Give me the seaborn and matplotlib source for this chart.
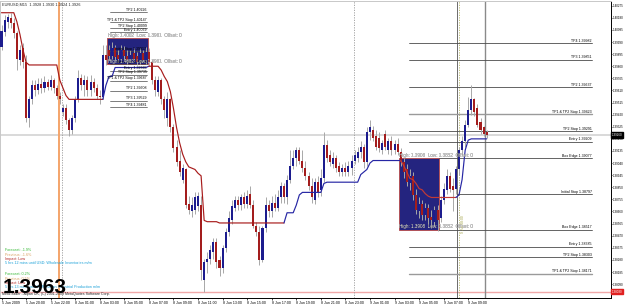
import matplotlib
matplotlib.use("Agg")
import matplotlib.pyplot as plt
import seaborn as sns
import pandas as pd
import numpy as np
from matplotlib.patches import Rectangle
import matplotlib.transforms as mtransforms

# ---------------- data (EURUSD M15) ----------------
opens = [1.3995, 1.4007, 1.4015, 1.4018, 1.4014, 1.4006, 1.3985, 1.3994, 1.3983, 1.3939,
         1.3954, 1.3965, 1.3961, 1.3966, 1.3963, 1.3968, 1.3964, 1.3969, 1.3963, 1.3957,
         1.3944, 1.3947, 1.3938, 1.3930, 1.3939, 1.3954, 1.3971, 1.3965, 1.3969, 1.3961,
         1.3968, 1.3963, 1.3957, 1.3956, 1.3989, 1.3993, 1.3988, 1.3994, 1.3989, 1.3986,
         1.3993, 1.3988, 1.3985, 1.3990, 1.3988, 1.3985, 1.3990, 1.3985, 1.3991, 1.3983,
         1.3969, 1.3960, 1.3969, 1.3954, 1.3939, 1.3954, 1.3932, 1.3917, 1.3906, 1.3891,
         1.3899, 1.3872, 1.3866, 1.3867, 1.3870, 1.3871, 1.3812, 1.3826, 1.3829, 1.3834,
         1.3842, 1.3828, 1.3822, 1.3837, 1.3850, 1.3859, 1.3869, 1.3875, 1.3871, 1.3877,
         1.3872, 1.3880, 1.3871, 1.3855, 1.3850, 1.3828, 1.3853, 1.3871, 1.3866, 1.3873,
         1.3869, 1.3877, 1.3886, 1.3877, 1.3891, 1.3902, 1.3908, 1.3914, 1.3906, 1.3900,
         1.3894, 1.3886, 1.3875, 1.3889, 1.3883, 1.3892, 1.3918, 1.3910, 1.3903, 1.3908,
         1.3902, 1.3897, 1.3900, 1.3897, 1.3900, 1.3906, 1.3908, 1.3913, 1.3917, 1.3905,
         1.3928, 1.3930, 1.3925, 1.3924, 1.3914, 1.3927, 1.3914, 1.3921, 1.3914, 1.3919,
         1.3913, 1.3905, 1.3899, 1.3888, 1.3894, 1.3879, 1.3866, 1.3872, 1.3863, 1.3869,
         1.3862, 1.3858, 1.3867, 1.3861, 1.3875, 1.3883, 1.3894, 1.3886, 1.3884, 1.3899,
         1.3914, 1.3921, 1.3934, 1.3946, 1.3954, 1.3947, 1.3936, 1.3932, 1.3928]
highs = [1.4012, 1.4020, 1.4021, 1.4022, 1.4018, 1.4008, 1.3997, 1.3998, 1.3989, 1.3957,
         1.3969, 1.3969, 1.3971, 1.3971, 1.3972, 1.3970, 1.3973, 1.3971, 1.3965, 1.3960,
         1.3950, 1.3950, 1.3939, 1.3942, 1.3957, 1.3977, 1.3974, 1.3973, 1.3972, 1.3973,
         1.3971, 1.3966, 1.3961, 1.3997, 1.3997, 1.3997, 1.3999, 1.3997, 1.3993, 1.3997,
         1.3996, 1.3993, 1.3993, 1.3994, 1.3991, 1.3994, 1.3993, 1.3995, 1.3994, 1.3985,
         1.3972, 1.3972, 1.3971, 1.3957, 1.3960, 1.3955, 1.3935, 1.3922, 1.3914, 1.3903,
         1.3900, 1.3878, 1.3877, 1.3881, 1.3881, 1.3878, 1.3829, 1.3834, 1.3840, 1.3845,
         1.3845, 1.3831, 1.3840, 1.3853, 1.3866, 1.3875, 1.3878, 1.3878, 1.3880, 1.3881,
         1.3883, 1.3886, 1.3875, 1.3858, 1.3855, 1.3855, 1.3877, 1.3875, 1.3878, 1.3880,
         1.3883, 1.3889, 1.3888, 1.3895, 1.3914, 1.3914, 1.3917, 1.3917, 1.3914, 1.3906,
         1.3897, 1.3892, 1.3892, 1.3894, 1.3899, 1.3928, 1.3922, 1.3914, 1.3913, 1.3910,
         1.3905, 1.3903, 1.3905, 1.3906, 1.3910, 1.3914, 1.3917, 1.3921, 1.3919, 1.3932,
         1.3938, 1.3933, 1.3930, 1.3928, 1.3922, 1.3930, 1.3924, 1.3925, 1.3922, 1.3924,
         1.3916, 1.3908, 1.3903, 1.3899, 1.3897, 1.3884, 1.3877, 1.3875, 1.3873, 1.3872,
         1.3867, 1.3870, 1.3871, 1.3878, 1.3888, 1.3899, 1.3897, 1.3892, 1.3902, 1.3917,
         1.3925, 1.3938, 1.3956, 1.3965, 1.3955, 1.3950, 1.3939, 1.3933, 1.3930]
lows = [1.3993, 1.4004, 1.4010, 1.4010, 1.4002, 1.3977, 1.3981, 1.3979, 1.3936, 1.3932,
        1.3950, 1.3957, 1.3958, 1.3959, 1.3960, 1.3961, 1.3961, 1.3959, 1.3954, 1.3950,
        1.3941, 1.3935, 1.3925, 1.3927, 1.3936, 1.3952, 1.3961, 1.3957, 1.3957, 1.3957,
        1.3960, 1.3954, 1.3950, 1.3954, 1.3981, 1.3985, 1.3986, 1.3985, 1.3983, 1.3985,
        1.3985, 1.3982, 1.3983, 1.3983, 1.3981, 1.3982, 1.3983, 1.3982, 1.3980, 1.3966,
        1.3957, 1.3957, 1.3950, 1.3939, 1.3933, 1.3928, 1.3913, 1.3902, 1.3894, 1.3888,
        1.3869, 1.3864, 1.3862, 1.3864, 1.3866, 1.3812, 1.3803, 1.3818, 1.3825, 1.3829,
        1.3822, 1.3815, 1.3818, 1.3834, 1.3847, 1.3856, 1.3866, 1.3867, 1.3867, 1.3869,
        1.3869, 1.3869, 1.3853, 1.3847, 1.3824, 1.3826, 1.3850, 1.3862, 1.3862, 1.3866,
        1.3866, 1.3873, 1.3873, 1.3872, 1.3888, 1.3899, 1.3902, 1.3903, 1.3897, 1.3891,
        1.3883, 1.3873, 1.3872, 1.3877, 1.3878, 1.3889, 1.3905, 1.3902, 1.3900, 1.3897,
        1.3894, 1.3894, 1.3894, 1.3894, 1.3895, 1.3903, 1.3905, 1.3908, 1.3900, 1.3902,
        1.3922, 1.3921, 1.3914, 1.3913, 1.3911, 1.3914, 1.3911, 1.3910, 1.3911, 1.3910,
        1.3902, 1.3892, 1.3886, 1.3883, 1.3875, 1.3864, 1.3861, 1.3859, 1.3859, 1.3856,
        1.3853, 1.3855, 1.3851, 1.3858, 1.3872, 1.3880, 1.3881, 1.3866, 1.3880, 1.3895,
        1.3910, 1.3917, 1.3932, 1.3942, 1.3941, 1.3932, 1.3927, 1.3925, 1.3924]
closes = [1.4008, 1.4016, 1.4019, 1.4014, 1.4006, 1.3986, 1.3993, 1.3983, 1.3939, 1.3954,
          1.3965, 1.3961, 1.3966, 1.3963, 1.3968, 1.3964, 1.3969, 1.3963, 1.3957, 1.3954,
          1.3947, 1.3938, 1.3930, 1.3939, 1.3954, 1.3971, 1.3965, 1.3969, 1.3961, 1.3968,
          1.3963, 1.3957, 1.3956, 1.3989, 1.3985, 1.3988, 1.3994, 1.3987, 1.3986, 1.3993,
          1.3988, 1.3985, 1.3989, 1.3986, 1.3983, 1.3990, 1.3985, 1.3991, 1.3983, 1.3969,
          1.3961, 1.3969, 1.3954, 1.3946, 1.3954, 1.3932, 1.3916, 1.3905, 1.3897, 1.3900,
          1.3871, 1.3867, 1.3871, 1.3877, 1.3878, 1.3820, 1.3826, 1.3829, 1.3836, 1.3842,
          1.3826, 1.3822, 1.3837, 1.3850, 1.3861, 1.3870, 1.3875, 1.3871, 1.3877, 1.3872,
          1.3878, 1.3871, 1.3855, 1.3850, 1.3828, 1.3853, 1.3871, 1.3866, 1.3873, 1.3869,
          1.3877, 1.3886, 1.3877, 1.3891, 1.3902, 1.3908, 1.3914, 1.3906, 1.3900, 1.3894,
          1.3886, 1.3877, 1.3889, 1.3881, 1.3892, 1.3918, 1.3908, 1.3905, 1.3908, 1.3900,
          1.3897, 1.3900, 1.3897, 1.3902, 1.3906, 1.3910, 1.3913, 1.3917, 1.3905, 1.3928,
          1.3932, 1.3924, 1.3917, 1.3916, 1.3920, 1.3917, 1.3921, 1.3914, 1.3919, 1.3913,
          1.3905, 1.3897, 1.3889, 1.3894, 1.3879, 1.3867, 1.3872, 1.3863, 1.3869, 1.3861,
          1.3859, 1.3867, 1.3859, 1.3875, 1.3884, 1.3894, 1.3884, 1.3883, 1.3899, 1.3914,
          1.3921, 1.3934, 1.3946, 1.3954, 1.3944, 1.3934, 1.3930, 1.3927, 1.3926]

# trailing-stop indicator, split into its red / blue stretches (first bar index, values)
trail_red_1_start = 0
trail_red_1 = [1.4022, 1.4022, 1.4022, 1.4022, 1.4022, 1.4015, 1.4005, 1.3993, 1.3983,
               1.3981, 1.3981, 1.3981, 1.3981, 1.3981, 1.3981, 1.3981, 1.3981, 1.3981, 1.3981,
               1.3969, 1.3963, 1.3957,
               1.3954, 1.3954, 1.3954, 1.3954, 1.3954, 1.3954, 1.3954, 1.3954, 1.3954, 1.3954,
               1.3954, 1.3954]
trail_blue_1_start = 33
trail_blue_1 = [1.3954, 1.3965, 1.3972, 1.3972, 1.3979, 1.3979, 1.3979, 1.3979, 1.3979,
                1.3979, 1.3979, 1.3979, 1.3979, 1.3979, 1.3979, 1.3980]
trail_red_2_start = 48
trail_red_2 = [1.3980, 1.3980, 1.3980, 1.3980, 1.3977, 1.3972, 1.3968, 1.3960, 1.3947,
               1.3932, 1.3920, 1.3911, 1.3905, 1.3901, 1.3900, 1.3899, 1.3896, 1.3894,
               1.3859, 1.3858, 1.3858, 1.3858, 1.3858,
               1.3857, 1.3857, 1.3857, 1.3857, 1.3857, 1.3857, 1.3857, 1.3857, 1.3857, 1.3857,
               1.3857, 1.3857, 1.3857, 1.3857, 1.3857, 1.3857, 1.3857, 1.3857, 1.3857, 1.3857,
               1.3857, 1.3857]
trail_blue_2_start = 92
trail_blue_2 = [1.3857, 1.3865, 1.3865, 1.3865, 1.3871, 1.3879,
                1.3881, 1.3881, 1.3881, 1.3881, 1.3881, 1.3881, 1.3881, 1.3888,
                1.3889, 1.3889, 1.3889, 1.3889, 1.3889, 1.3889, 1.3889, 1.3889, 1.3889,
                1.3889, 1.3889, 1.3895, 1.3897, 1.3899, 1.3904,
                1.3906, 1.3906, 1.3906, 1.3906, 1.3906, 1.3906, 1.3906, 1.3906, 1.3906, 1.3906]
trail_red_3_start = 130
trail_red_3 = [1.3906, 1.3902, 1.3897, 1.3892, 1.3891, 1.3888, 1.3884, 1.3883, 1.3880,
               1.3878, 1.3877, 1.3877, 1.3877, 1.3877, 1.3877, 1.3877, 1.3877, 1.3877, 1.3877]
trail_blue_3_start = 148
trail_blue_3 = [1.3877, 1.3879, 1.3891, 1.3914, 1.3922, 1.3923, 1.3923, 1.3923, 1.3923,
                1.3923, 1.3923]

# breakout boxes (first bar, last bar, high, low)
left_box_bars = [35, 47]
left_box_prices = [1.40020, 1.39814]
right_box_bars = [130, 142]
right_box_prices = [1.39077, 1.38517]

left_level_names = ["TP2 1.40226", "TP1 & TP2 Stop 1.40147", "TP2 Stop 1.40099", "Entry 1.40069",
                    "Initial Stop 1.39917",
                    "Box Edge 1.39814", "Entry 1.39765", "TP2 Stop 1.39735",
                    "TP1 & TP2 Stop 1.39687", "TP2 1.39608", "TP3 1.39529", "TP4 1.39481"]
left_level_prices = [1.40226, 1.40147, 1.40099, 1.40069, 1.39917, 1.39814, 1.39765, 1.39735,
                     1.39687, 1.39608, 1.39529, 1.39481]
right_level_names = ["TP4 1.39982", "TP3 1.39851", "TP2 1.39637", "TP1 & TP2 Stop 1.39423",
                     "TP2 Stop 1.39291", "Entry 1.39209", "Box Edge 1.39077",
                     "Initial Stop 1.38797", "Box Edge 1.38517", "Entry 1.38385",
                     "TP2 Stop 1.38303", "TP1 & TP2 Stop 1.38171"]
right_level_prices = [1.39982, 1.39851, 1.39637, 1.39423, 1.39291, 1.39209, 1.39077,
                      1.38797, 1.38517, 1.38385, 1.38303, 1.38171]

time_labels = ["5 Jun 2009", "5 Jun 20:00", "5 Jun 22:00", "8 Jun 01:00", "8 Jun 03:00",
               "8 Jun 05:00", "8 Jun 07:00", "8 Jun 09:00", "8 Jun 11:00", "8 Jun 13:00",
               "8 Jun 15:00", "8 Jun 17:00", "8 Jun 19:00", "8 Jun 21:00", "8 Jun 23:00",
               "9 Jun 01:00", "9 Jun 03:00", "9 Jun 05:00", "9 Jun 07:00", "9 Jun 09:00"]
time_label_bars = [0, 8, 16, 24, 32, 40, 48, 56, 64, 72, 80, 88, 96, 104, 112, 120, 128,
                   136, 144, 152]
price_ticks = [1.40275, 1.40180, 1.40085, 1.39990, 1.39895, 1.39800, 1.39705, 1.39610,
               1.39515, 1.39420, 1.39325, 1.39230, 1.39135, 1.39040, 1.38945, 1.38850,
               1.38755, 1.38660, 1.38565, 1.38470, 1.38375, 1.38280, 1.38185, 1.38090]
bid_price = 1.39260
alert_price = 1.38030
header = "EURUSD,M15  1.3928 1.3930 1.3924 1.3926"
big_price = "1.3963"

news_1 = ["Forecast: -1.9%", "Previous: -1.6%", "Impact: Low",
          "5 hrs 12 mins until USD: Wholesale Inventories m/m"]
news_2 = ["Forecast: 0.2%", "Previous: 0.5%", "Impact: Low",
          "5 hrs 13 mins until EUR: Italian Industrial Production m/m"]

# ---------------- figure ----------------
sns.set_theme(style="white")
plt.rcParams['font.family'] = ['Liberation Sans', 'DejaVu Sans']

W, H = 625, 306
PLOT_R, PLOT_T, PLOT_B = 611, 1, 297.5
fig = plt.figure(figsize=(W / 100, H / 100), dpi=100)
fig.patch.set_facecolor('white')
ax = fig.add_axes([0, 1 - PLOT_B / H, PLOT_R / W, (PLOT_B - PLOT_T) / H])
ax.set_facecolor('white')

n = len(opens)
bars = np.arange(n)
o, hi, lo, c = (np.array(v) for v in (opens, highs, lows, closes))
ax.set_xlim(-0.49, 198.5)
ax.set_ylim(1.37985, 1.40312)


def px(xp, yp):
    return xp / PLOT_R, (PLOT_B - yp) / (PLOT_B - PLOT_T)


BULL, BEAR, WICK = '#1c1c8e', '#a31d1d', '#a8a8a8'
BOXC = '#24247f'

# boxes (background)
for (b0, b1), (ph, pl) in ((left_box_bars, left_box_prices), (right_box_bars, right_box_prices)):
    ax.add_patch(Rectangle((b0 - 0.6, pl), (b1 - b0) + 1.2, ph - pl, facecolor=BOXC,
                           edgecolor='#b84848', lw=0.6, zorder=1))

# horizontal market lines
ax.axhline(bid_price, color='#cfcfcf', lw=1.1, zorder=0.5)
ax.axhline(alert_price, color='#f0a8a8', lw=1.0, zorder=0.5)

# vertical lines
ax.axvline(18.75, color='#f4a46a', lw=1.4, zorder=0.6)
ax.axvline(19.8, color='#9a9a9a', lw=0.6, ls=(0, (1.5, 1.5)), zorder=0.6)
ax.axvline(114.8, color='#9a9a9a', lw=0.6, ls=(0, (1.5, 1.5)), zorder=0.6)
ax.axvline(148.4, color='#555555', lw=0.6, zorder=0.6)
ax.axvline(149.0, color='#b5b56a', lw=0.6, ls=(0, (1.5, 1.5)), zorder=0.6)
ax.axvline(157.5, color='#8a8a8a', lw=1.0, zorder=0.6)

# level lines + labels
for name, p in zip(left_level_names, left_level_prices):
    ax.plot([35.3, 47.4], [p, p], color='#4a4a4a', lw=0.5, zorder=2)
    ax.text(47.2, p + 0.00003, name, fontsize=2.6, ha='right', va='bottom', color='black', zorder=6)
for name, p in zip(right_level_names, right_level_prices):
    start = 132.7
    if name.startswith("Box Edge"):
        start = 142.6
    if name.startswith("Initial"):
        start = 148.4
    col, lw = ('#9a9a9a', 1.0) if "TP1 & TP2" in name else ('#4a4a4a', 0.6)
    ax.plot([start, 192.3], [p, p], color=col, lw=lw, zorder=2)
    ax.text(192.3, p + 0.00003, name, fontsize=2.6, ha='right', va='bottom', color='black', zorder=6)

# candles
ax.vlines(bars, lo, hi, colors=WICK, linewidth=0.7, zorder=3)
body_low = np.minimum(o, c)
body_h = np.maximum(np.abs(c - o), 0.00005)
ax.bar(bars, body_h, bottom=body_low, width=0.66, color=np.where(c >= o, BULL, BEAR),
       linewidth=0, zorder=4)

# trailing indicator via seaborn
segs = [(trail_red_1, trail_red_1_start, '#a81c1c'), (trail_blue_1, trail_blue_1_start, '#2626a4'),
        (trail_red_2, trail_red_2_start, '#a81c1c'), (trail_blue_2, trail_blue_2_start, '#2626a4'),
        (trail_red_3, trail_red_3_start, '#c23a35'), (trail_blue_3, trail_blue_3_start, '#2626a4')]
for vals, start, col in segs:
    d = pd.DataFrame({'bar': np.arange(start, start + len(vals)), 'price': vals})
    sns.lineplot(data=d, x='bar', y='price', color=col, linewidth=0.85, ax=ax,
                 estimator=None, legend=False, zorder=5)

# box info texts (white where they sit over the box)
for (b0, b1), (ph, pl) in ((left_box_bars, left_box_prices), (right_box_bars, right_box_prices)):
    s = "High: %.4f  Low: %.4f  Offset: 0" % (ph, pl)
    rect = Rectangle((b0 - 0.6, pl), (b1 - b0) + 1.2, ph - pl, transform=ax.transData)
    for yv in (ph + 0.00004, pl + 0.00004):
        ax.text(b0 - 0.4, yv, s, fontsize=3.3, ha='left', va='bottom', color='black', zorder=7)
        t = ax.text(b0 - 0.4, yv, s, fontsize=3.3, ha='left', va='bottom', color='white', zorder=8)
        t.set_clip_path(rect)

# rotated label of the vertical line
ax.text(149.6, 1.3856, "9 Jun 08:00", rotation=90, fontsize=2.4, color='#a0a040',
        ha='left', va='center', zorder=7)

# header / news / big price
ax.text(*px(2, 4.5), header, transform=ax.transAxes, fontsize=2.8, va='center', ha='left')
ny = [250, 254.5, 259, 263.5]
ncol = ['#34b834', '#d9a060', '#b02020', '#1aa0d8']
for txt, yy, cc in zip(news_1, ny, ncol):
    ax.text(*px(5, yy), txt, transform=ax.transAxes, fontsize=2.7, color=cc, va='center', ha='left', zorder=9)
for txt, yy, cc in zip(news_2, [274, 278.5, 283, 287.5], ncol):
    ax.text(*px(5, yy), txt, transform=ax.transAxes, fontsize=2.7, color=cc, va='center', ha='left', zorder=9)
ax.text(*px(2, 294.5), "MetaTrader - Alpari UK, (C) 2001-2009 MetaQuotes Software Corp.",
        transform=ax.transAxes, fontsize=2.6, va='center', ha='left', zorder=9)
ax.text(*px(3, 293), big_price, transform=ax.transAxes, fontsize=15, fontweight='bold',
        family=['Liberation Sans Narrow', 'Liberation Sans'], va='baseline', ha='left',
        color='black', zorder=10)

# axes styling (MT4-like)
ax.yaxis.tick_right()
ax.set_yticks(price_ticks)
ax.set_yticklabels(["%.5f" % v for v in price_ticks])
ax.set_xticks(time_label_bars)
ax.set_xticklabels(time_labels, ha='left')
ax.tick_params(axis='y', right=True, left=False, length=1.0, width=0.5, pad=0.4, labelsize=2.15,
               colors='black')
ax.tick_params(axis='x', bottom=True, length=1.5, width=0.5, pad=1, labelsize=2.6, colors='black')
ax.set_xlabel('')
ax.set_ylabel('')
for side, col in (('right', 'black'), ('bottom', 'black'), ('top', '#c8c8c8'), ('left', '#c8c8c8')):
    ax.spines[side].set_visible(True)
    ax.spines[side].set_color(col)
    ax.spines[side].set_linewidth(0.7)

# price tags on the scale
tr = mtransforms.blended_transform_factory(ax.transAxes, ax.transData)
ax.text(1.0015, bid_price, "%.5f" % bid_price, transform=tr, fontsize=2.15, color='white',
        va='center', ha='left', bbox=dict(boxstyle='square,pad=0.2', fc='black', ec='black'),
        zorder=11, clip_on=False)
ax.text(1.0015, alert_price, "%.5f" % alert_price, transform=tr, fontsize=2.15, color='white',
        va='center', ha='left', bbox=dict(boxstyle='square,pad=0.2', fc='#e02020', ec='#e02020'),
        zorder=11, clip_on=False)

fig.savefig('out.png', dpi=100, facecolor='white')
